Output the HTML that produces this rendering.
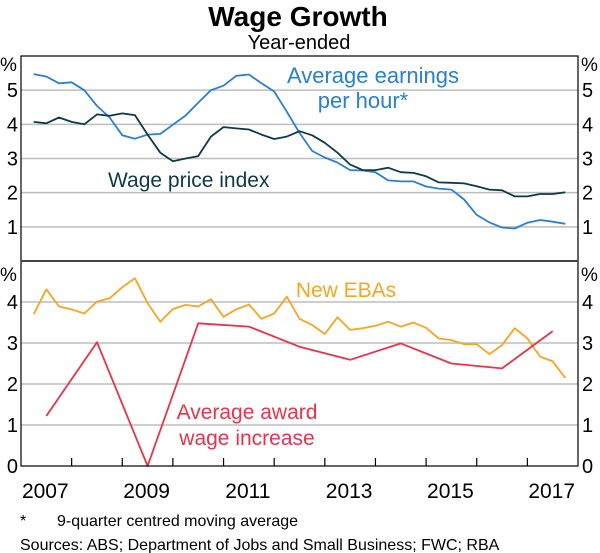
<!DOCTYPE html>
<html><head><meta charset="utf-8"><style>
html,body{margin:0;padding:0;background:#fff;}
svg{display:block;font-family:"Liberation Sans",Arial,sans-serif;}
</style></head><body>
<svg id="chart" width="600" height="553" viewBox="0 0 600 553">
<text x="298" y="26" text-anchor="middle" font-size="28" font-weight="bold">Wage Growth</text>
<text x="299" y="49" text-anchor="middle" font-size="20">Year-ended</text>
<g id="grid"></g>
<g id="series"></g>
<g id="axes"></g>
<text x="373" y="83" text-anchor="middle" font-size="22" fill="#2a7fd4">Average earnings</text>
<text x="363" y="108" text-anchor="middle" font-size="22" fill="#2a7fd4">per hour*</text>
<text x="108" y="187" font-size="21" fill="#0e3a47">Wage price index</text>
<text x="346" y="297" text-anchor="middle" font-size="21" fill="#f5a623">New EBAs</text>
<text x="247" y="419" text-anchor="middle" font-size="21" fill="#e8334a">Average award</text>
<text x="247" y="445" text-anchor="middle" font-size="21" fill="#e8334a">wage increase</text>
<text x="20" y="526" font-size="16">*</text>
<text x="57" y="526" font-size="16">9-quarter centred moving average</text>
<text x="20" y="550" font-size="16">Sources: ABS; Department of Jobs and Small Business; FWC; RBA</text>
</svg>
<script>
const years = [2007,2009,2011,2013,2015,2017];
const topTicks = [1,2,3,4,5];
const bottomTicks = [0,1,2,3,4];
const aehValues = [5.47,5.4,5.2,5.23,5.0,4.54,4.2,3.68,3.58,3.7,3.72,3.99,4.26,4.63,5.0,5.13,5.42,5.46,5.2,4.96,4.37,3.75,3.22,3.03,2.88,2.66,2.65,2.6,2.36,2.33,2.33,2.18,2.12,2.09,1.8,1.35,1.13,0.98,0.95,1.12,1.2,1.15,1.09];
const wpiValues = [4.07,4.03,4.2,4.07,4.0,4.29,4.25,4.32,4.27,3.7,3.17,2.92,3.0,3.07,3.64,3.92,3.88,3.85,3.7,3.57,3.64,3.8,3.68,3.46,3.17,2.82,2.66,2.66,2.73,2.6,2.58,2.48,2.3,2.29,2.27,2.19,2.09,2.07,1.89,1.89,1.96,1.96,2.01];
const ebaValues = [3.7,4.31,3.89,3.82,3.72,4.01,4.09,4.36,4.58,3.97,3.52,3.83,3.93,3.89,4.07,3.64,3.82,3.94,3.59,3.72,4.13,3.59,3.44,3.22,3.63,3.32,3.36,3.42,3.52,3.4,3.5,3.37,3.11,3.07,2.97,2.97,2.73,2.95,3.36,3.11,2.67,2.55,2.15];
const awardYears = [2007.5,2008.5,2009.5,2010.5,2011.5,2012.5,2013.5,2014.5,2015.5,2016.5,2017.5];
const awardValues = [1.22,3.02,0,3.48,3.4,2.91,2.59,2.99,2.5,2.38,3.29];

const NS='http://www.w3.org/2000/svg';
const L=21,R=578,T=56,M=261,B=466;
const xs=t=>L+(t-2007)*(R-L)/11;
const yTop=v=>M-v*(M-T)/6;
const yBot=v=>B-v*(B-M)/5;
function el(tag,attrs,parent,txt){const e=document.createElementNS(NS,tag);for(const k in attrs)e.setAttribute(k,attrs[k]);if(txt!==undefined)e.textContent=txt;document.getElementById(parent).appendChild(e);return e;}

topTicks.forEach(v=>{
 const g=el('line',{x1:L,x2:R,y1:yTop(v),y2:yTop(v),stroke:'#bdbdbd','stroke-width':1.5},'grid');
 
 
 const a=el('text',{x:18,y:yTop(v)+7,'text-anchor':'end','font-size':20},'axes',v);
 
 
 const b=el('text',{x:582,y:yTop(v)+7,'font-size':20},'axes',v);
 
 
});
bottomTicks.forEach(v=>{
 if(v>0){const g=el('line',{x1:L,x2:R,y1:yBot(v),y2:yBot(v),stroke:'#bdbdbd','stroke-width':1.5},'grid');
 
 }
 const a=el('text',{x:18,y:yBot(v)+7,'text-anchor':'end','font-size':20},'axes',v);
 
 
 const b=el('text',{x:582,y:yBot(v)+7,'font-size':20},'axes',v);
 
 
});
[['top',T],['bottom',M+5]].forEach(([n,y])=>{
 const a=el('text',{x:0,y:y+15,'font-size':19},'axes','%');
 
 
 const b=el('text',{x:581,y:y+15,'font-size':19},'axes','%');
 
 
});
function line(vals,xf,yf,color,name){
 const d=vals.map((v,i)=>(i?'L':'M')+xf(i).toFixed(1)+','+yf(v).toFixed(1)).join(' ');
 const p=el('path',{d:d,fill:'none',stroke:color,'stroke-width':1.8,'stroke-linejoin':'round'},'series');
 
 
}
const qx=i=>xs(2007.25+i*0.25);
line(aehValues,qx,yTop,'#2a7fd4','aeh-line');
line(wpiValues,qx,yTop,'#0e3a47','wpi-line');
line(ebaValues,qx,yBot,'#f5a623','eba-line');
line(awardValues,i=>xs(awardYears[i]),yBot,'#e8334a','award-line');

const fr=el('rect',{x:L,y:T,width:R-L,height:B-T,fill:'none',stroke:'#000','stroke-width':1.2},'axes');


const dv=el('line',{x1:L,x2:R,y1:M,y2:M,stroke:'#444','stroke-width':2},'axes');


for(let y=2008;y<=2017;y++){
 const t=el('line',{x1:xs(y),x2:xs(y),y1:B,y2:B-8,stroke:'#000','stroke-width':1.2},'axes');
 
 
}
years.forEach(y=>{
 const t=el('text',{x:xs(y+0.5)-1,y:498,'text-anchor':'middle','font-size':21},'axes',y);
 
 
});
</script>
</body></html>
